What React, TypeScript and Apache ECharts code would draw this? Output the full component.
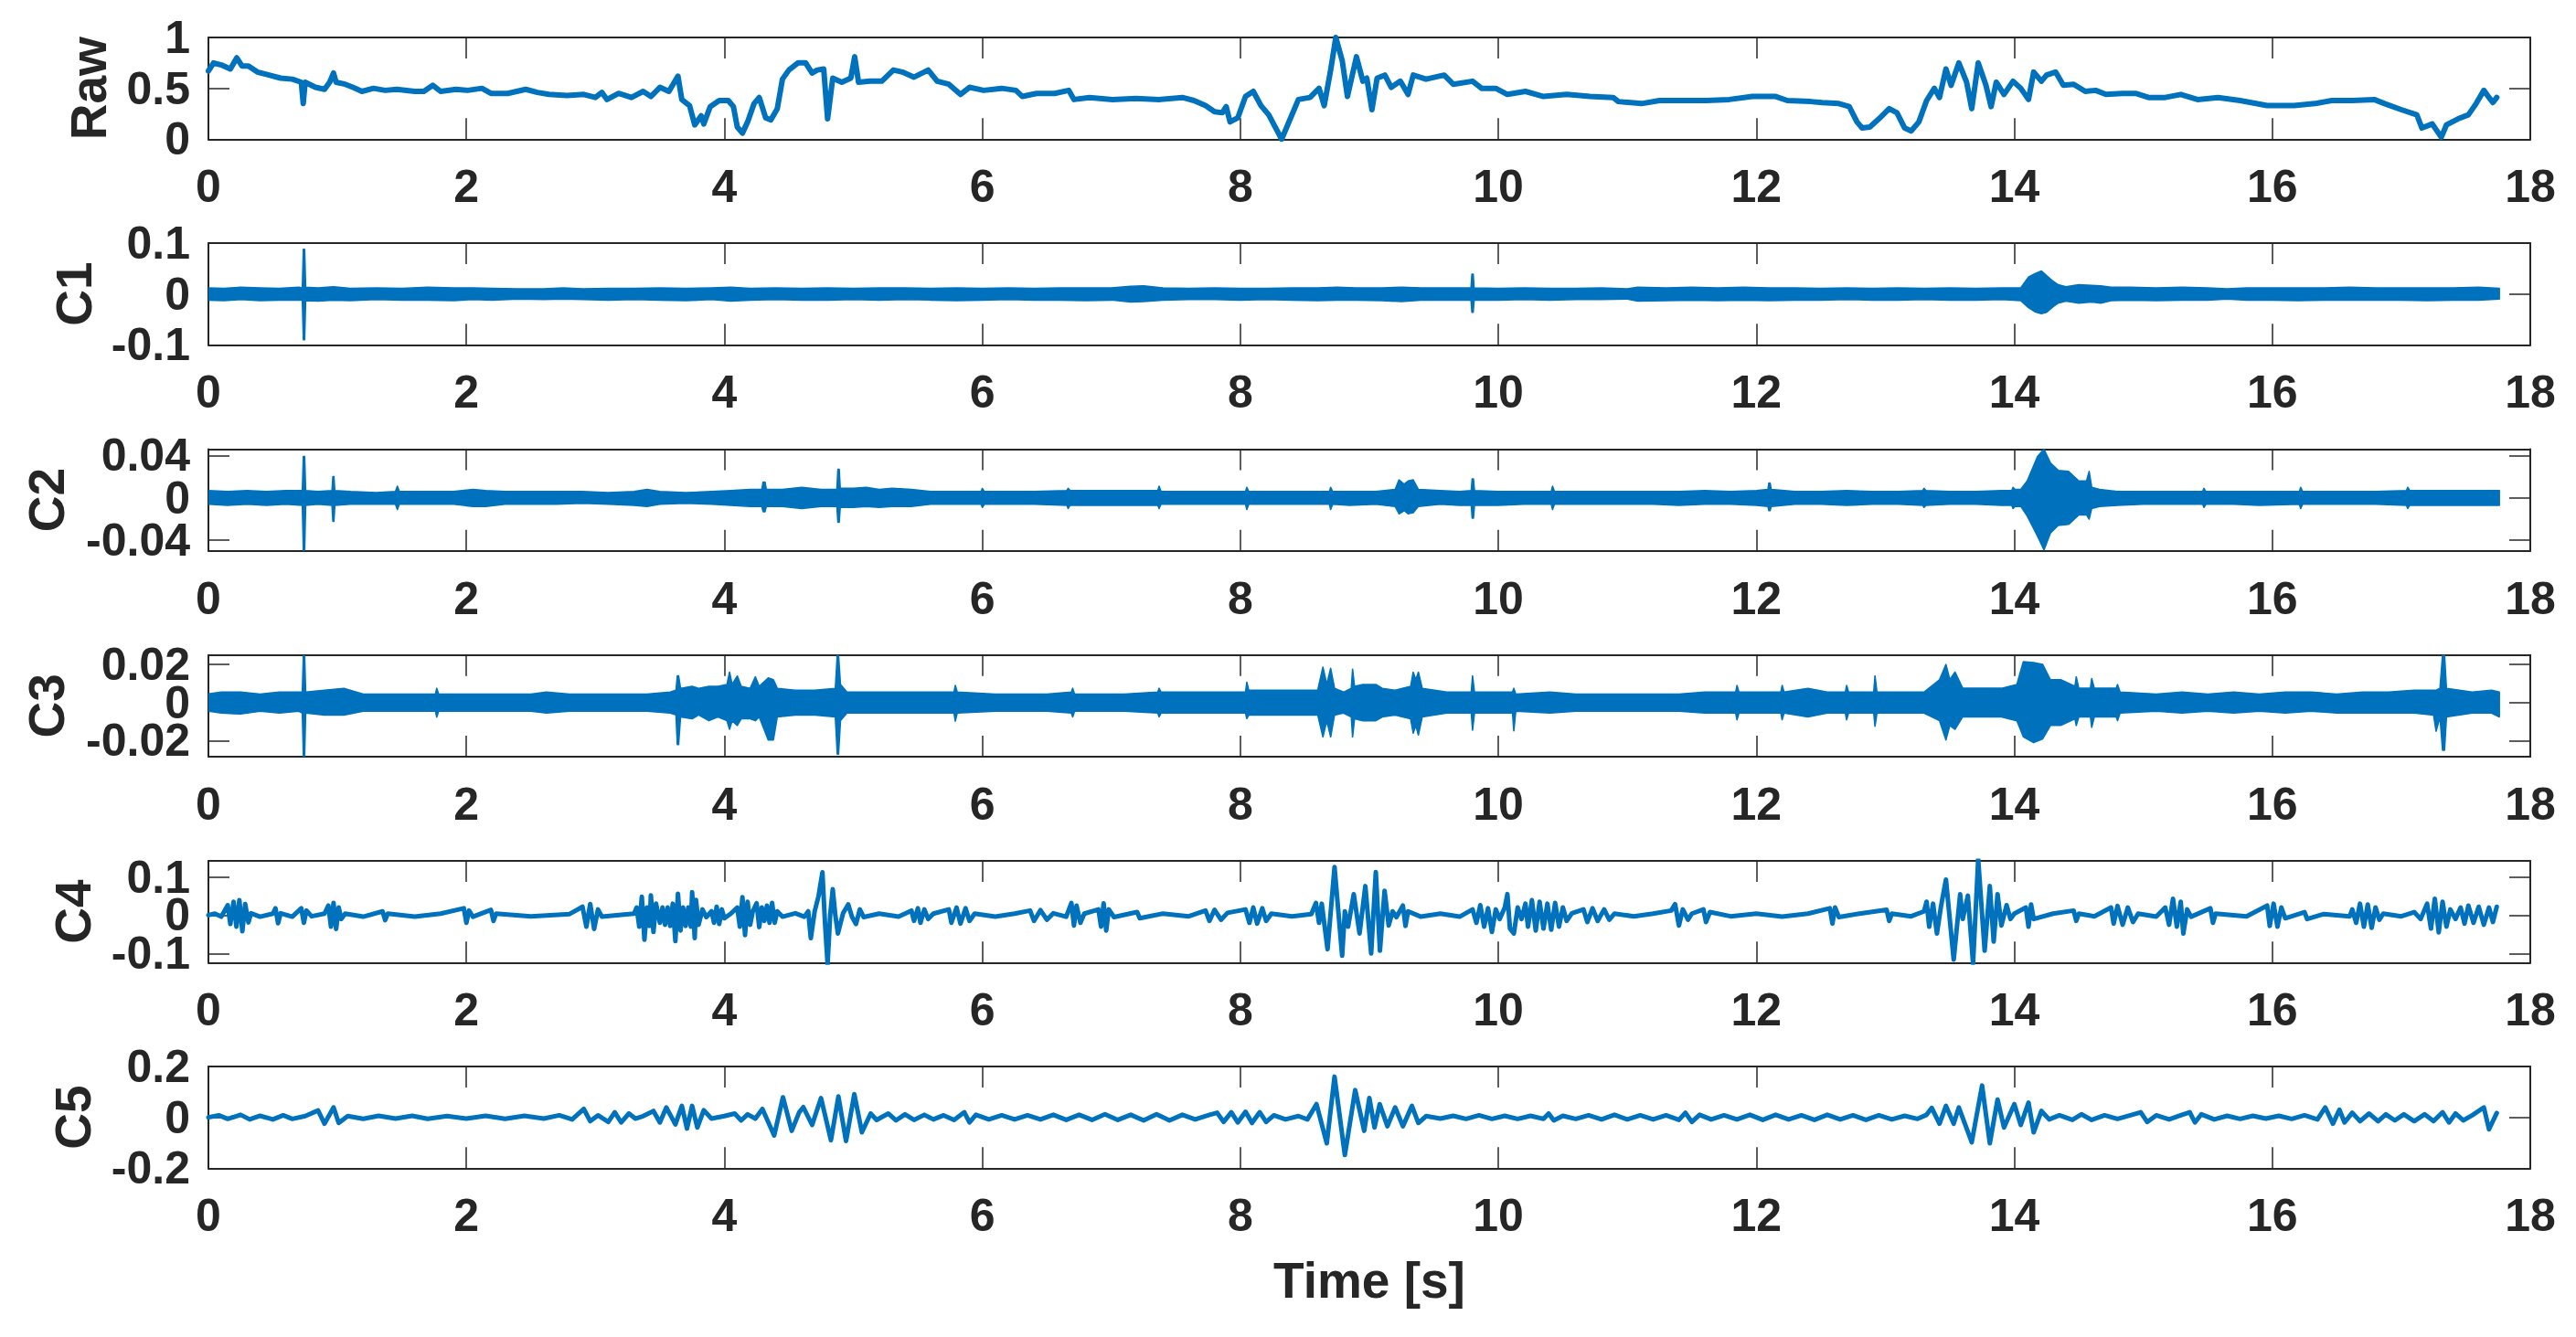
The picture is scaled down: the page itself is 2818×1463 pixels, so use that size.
import React, { useEffect, useRef } from "react";
import * as echarts from "echarts";

// ---------------- data ----------------
const timeTicks = [0, 2, 4, 6, 8, 10, 12, 14, 16, 18];
const panelNames = ["Raw", "C1", "C2", "C3", "C4", "C5"];
const yTicksRaw = [0, 0.5, 1];
const yTicksC1 = [-0.1, 0, 0.1];
const yTicksC2 = [-0.04, 0, 0.04];
const yTicksC3 = [-0.02, 0, 0.02];
const yTicksC4 = [-0.1, 0, 0.1];
const yTicksC5 = [-0.2, 0, 0.2];
const yLimitsRaw = [0, 1];
const yLimitsC1 = [-0.1, 0.1];
const yLimitsC2 = [-0.05, 0.046];
const yLimitsC3 = [-0.0284, 0.025];
const yLimitsC4 = [-0.124, 0.142];
const yLimitsC5 = [-0.2, 0.2];

// Raw signal [t, value]
const rawSignal = [
  [0.0, 0.67], [0.04, 0.75], [0.1, 0.73], [0.17, 0.69], [0.22, 0.8], [0.26, 0.72], [0.31, 0.72], [0.38, 0.66],
  [0.47, 0.63], [0.56, 0.6], [0.65, 0.59], [0.72, 0.56], [0.735, 0.35], [0.75, 0.56], [0.83, 0.51], [0.9, 0.49],
  [0.94, 0.56], [0.97, 0.65], [0.99, 0.56], [1.06, 0.54], [1.12, 0.51], [1.19, 0.47], [1.28, 0.5], [1.37, 0.48],
  [1.46, 0.49], [1.6, 0.47], [1.67, 0.47], [1.74, 0.53], [1.8, 0.47], [1.92, 0.49], [2.01, 0.48], [2.12, 0.5],
  [2.19, 0.45], [2.32, 0.45], [2.46, 0.49], [2.55, 0.46], [2.64, 0.44], [2.78, 0.43], [2.91, 0.44], [3.0, 0.41],
  [3.05, 0.46], [3.09, 0.39], [3.18, 0.45], [3.28, 0.41], [3.37, 0.47], [3.43, 0.42], [3.5, 0.51], [3.57, 0.47],
  [3.64, 0.62], [3.67, 0.39], [3.73, 0.33], [3.77, 0.14], [3.82, 0.23], [3.84, 0.15], [3.89, 0.32], [3.96, 0.38],
  [4.03, 0.38], [4.07, 0.32], [4.1, 0.12], [4.14, 0.06], [4.18, 0.17], [4.23, 0.35], [4.27, 0.41], [4.32, 0.21],
  [4.36, 0.19], [4.41, 0.3], [4.45, 0.59], [4.5, 0.68], [4.57, 0.75], [4.63, 0.75], [4.68, 0.65], [4.72, 0.68],
  [4.77, 0.69], [4.8, 0.2], [4.84, 0.6], [4.91, 0.56], [4.98, 0.6], [5.01, 0.81], [5.04, 0.56], [5.13, 0.57],
  [5.22, 0.57], [5.31, 0.68], [5.38, 0.66], [5.47, 0.61], [5.58, 0.68], [5.65, 0.57], [5.74, 0.54], [5.83, 0.44],
  [5.9, 0.51], [6.01, 0.48], [6.15, 0.5], [6.26, 0.48], [6.31, 0.42], [6.42, 0.45], [6.56, 0.45], [6.67, 0.48],
  [6.71, 0.39], [6.83, 0.41], [7.01, 0.39], [7.19, 0.4], [7.37, 0.39], [7.55, 0.41], [7.64, 0.38], [7.73, 0.33],
  [7.8, 0.27], [7.86, 0.26], [7.89, 0.32], [7.92, 0.17], [7.98, 0.21], [8.04, 0.42], [8.1, 0.47], [8.16, 0.33],
  [8.22, 0.24], [8.32, 0.0], [8.38, 0.18], [8.45, 0.39], [8.54, 0.41], [8.61, 0.5], [8.65, 0.33], [8.7, 0.68],
  [8.74, 1.0], [8.79, 0.77], [8.83, 0.42], [8.9, 0.81], [8.95, 0.57], [8.98, 0.6], [9.02, 0.29], [9.06, 0.6],
  [9.12, 0.63], [9.17, 0.51], [9.24, 0.57], [9.3, 0.44], [9.34, 0.63], [9.44, 0.59], [9.58, 0.63], [9.65, 0.54],
  [9.8, 0.57], [9.87, 0.5], [9.98, 0.5], [10.07, 0.44], [10.21, 0.47], [10.35, 0.42], [10.53, 0.44], [10.71, 0.42],
  [10.89, 0.41], [10.93, 0.37], [11.11, 0.35], [11.25, 0.38], [11.43, 0.38], [11.61, 0.38], [11.79, 0.39],
  [11.97, 0.42], [12.15, 0.42], [12.24, 0.38], [12.42, 0.37], [12.51, 0.36], [12.64, 0.35], [12.72, 0.32],
  [12.78, 0.17], [12.82, 0.11], [12.88, 0.12], [12.95, 0.2], [13.03, 0.3], [13.09, 0.26], [13.15, 0.11],
  [13.2, 0.08], [13.26, 0.17], [13.32, 0.38], [13.38, 0.5], [13.42, 0.41], [13.47, 0.69], [13.51, 0.53],
  [13.57, 0.75], [13.63, 0.56], [13.67, 0.3], [13.72, 0.75], [13.78, 0.53], [13.82, 0.32], [13.86, 0.56],
  [13.92, 0.44], [13.99, 0.57], [14.05, 0.5], [14.11, 0.39], [14.15, 0.66], [14.21, 0.57], [14.25, 0.63],
  [14.32, 0.66], [14.38, 0.53], [14.46, 0.54], [14.55, 0.47], [14.63, 0.48], [14.71, 0.44], [14.84, 0.45],
  [14.94, 0.45], [15.04, 0.41], [15.17, 0.41], [15.29, 0.44], [15.42, 0.39], [15.58, 0.41], [15.75, 0.38],
  [15.96, 0.33], [16.17, 0.33], [16.33, 0.35], [16.46, 0.38], [16.62, 0.38], [16.79, 0.39], [16.87, 0.35],
  [17.0, 0.29], [17.12, 0.24], [17.16, 0.11], [17.24, 0.15], [17.31, 0.02], [17.35, 0.14], [17.44, 0.2],
  [17.52, 0.24], [17.58, 0.35], [17.64, 0.48], [17.68, 0.41], [17.71, 0.36], [17.74, 0.41],
];

// C1 envelope [t, low, high]
const c1Envelope = [
  [0.0, -0.012, 0.012], [0.12, -0.013, 0.011], [0.25, -0.011, 0.013], [0.4, -0.013, 0.012], [0.55, -0.012, 0.011],
  [0.7, -0.012, 0.013], [0.728, -0.012, 0.012], [0.736, -0.09, 0.088], [0.746, -0.09, 0.088], [0.754, -0.013, 0.013],
  [0.85, -0.014, 0.012], [0.97, -0.012, 0.014], [1.1, -0.013, 0.011], [1.3, -0.011, 0.012], [1.5, -0.012, 0.011],
  [1.7, -0.012, 0.013], [1.9, -0.013, 0.012], [2.05, -0.011, 0.012], [2.2, -0.012, 0.011], [2.4, -0.01, 0.01],
  [2.6, -0.011, 0.01], [2.75, -0.01, 0.012], [2.9, -0.011, 0.01], [3.1, -0.012, 0.011], [3.3, -0.011, 0.011],
  [3.5, -0.012, 0.012], [3.7, -0.013, 0.011], [3.9, -0.011, 0.012], [4.05, -0.014, 0.013], [4.2, -0.012, 0.011],
  [4.4, -0.011, 0.012], [4.6, -0.012, 0.011], [4.8, -0.012, 0.012], [5.0, -0.011, 0.011], [5.2, -0.012, 0.012],
  [5.4, -0.011, 0.012], [5.6, -0.012, 0.011], [5.8, -0.013, 0.012], [6.0, -0.012, 0.011], [6.2, -0.011, 0.012],
  [6.4, -0.012, 0.011], [6.6, -0.012, 0.012], [6.8, -0.013, 0.012], [7.0, -0.012, 0.012], [7.15, -0.016, 0.015],
  [7.25, -0.015, 0.016], [7.4, -0.012, 0.012], [7.6, -0.011, 0.011], [7.8, -0.011, 0.012], [8.0, -0.012, 0.011],
  [8.2, -0.011, 0.011], [8.4, -0.012, 0.012], [8.6, -0.013, 0.012], [8.75, -0.012, 0.013], [8.9, -0.012, 0.012],
  [9.1, -0.013, 0.012], [9.25, -0.015, 0.013], [9.4, -0.012, 0.012], [9.6, -0.012, 0.012], [9.788, -0.012, 0.012],
  [9.795, -0.036, 0.039], [9.805, -0.036, 0.039], [9.812, -0.012, 0.012], [10.0, -0.012, 0.011], [10.2, -0.011, 0.012],
  [10.4, -0.012, 0.011], [10.6, -0.011, 0.011], [10.8, -0.011, 0.012], [11.0, -0.01, 0.01], [11.08, -0.014, 0.013],
  [11.3, -0.013, 0.012], [11.5, -0.012, 0.013], [11.7, -0.013, 0.012], [11.9, -0.012, 0.013], [12.1, -0.013, 0.012],
  [12.3, -0.012, 0.012], [12.5, -0.012, 0.011], [12.7, -0.011, 0.012], [12.9, -0.012, 0.011], [13.1, -0.012, 0.012],
  [13.3, -0.011, 0.011], [13.5, -0.012, 0.012], [13.7, -0.012, 0.011], [13.9, -0.011, 0.012], [14.05, -0.013, 0.012],
  [14.11, -0.027, 0.033], [14.16, -0.035, 0.04], [14.21, -0.039, 0.045], [14.25, -0.036, 0.036], [14.3, -0.025, 0.025],
  [14.34, -0.018, 0.018], [14.4, -0.014, 0.014], [14.5, -0.018, 0.018], [14.6, -0.016, 0.017], [14.67, -0.018, 0.016],
  [14.75, -0.013, 0.013], [14.9, -0.012, 0.013], [15.1, -0.013, 0.012], [15.3, -0.012, 0.013], [15.5, -0.012, 0.012],
  [15.65, -0.01, 0.01], [15.8, -0.012, 0.012], [16.0, -0.012, 0.012], [16.2, -0.013, 0.012], [16.4, -0.012, 0.012],
  [16.6, -0.012, 0.013], [16.8, -0.012, 0.012], [17.0, -0.012, 0.012], [17.2, -0.013, 0.012], [17.4, -0.012, 0.012],
  [17.6, -0.012, 0.013], [17.76, -0.01, 0.011],
];

// C2 envelope [t, low, high]
const c2Envelope = [
  [0.0, -0.006, 0.007], [0.15, -0.007, 0.006], [0.3, -0.006, 0.007], [0.45, -0.007, 0.006], [0.6, -0.006, 0.007],
  [0.728, -0.007, 0.007], [0.736, -0.05, 0.039], [0.746, -0.05, 0.039], [0.754, -0.007, 0.007], [0.85, -0.006, 0.006],
  [0.958, -0.007, 0.007], [0.965, -0.022, 0.02], [0.973, -0.022, 0.02], [0.98, -0.007, 0.007], [1.1, -0.006, 0.006],
  [1.3, -0.006, 0.005], [1.45, -0.006, 0.006], [1.465, -0.011, 0.011], [1.48, -0.006, 0.006], [1.7, -0.006, 0.006],
  [1.9, -0.006, 0.006], [2.05, -0.008, 0.008], [2.15, -0.008, 0.007], [2.3, -0.006, 0.006], [2.5, -0.006, 0.006],
  [2.7, -0.006, 0.006], [2.9, -0.005, 0.006], [3.1, -0.006, 0.005], [3.3, -0.007, 0.006], [3.4, -0.008, 0.008],
  [3.5, -0.006, 0.006], [3.7, -0.005, 0.005], [3.9, -0.006, 0.006], [4.05, -0.007, 0.007], [4.2, -0.008, 0.008],
  [4.29, -0.008, 0.008], [4.3, -0.013, 0.015], [4.315, -0.013, 0.015], [4.325, -0.008, 0.008], [4.45, -0.008, 0.008],
  [4.6, -0.01, 0.01], [4.75, -0.008, 0.008], [4.872, -0.008, 0.008], [4.88, -0.023, 0.027], [4.89, -0.023, 0.027],
  [4.898, -0.009, 0.009], [5.0, -0.009, 0.009], [5.1, -0.008, 0.01], [5.2, -0.009, 0.008], [5.3, -0.008, 0.009],
  [5.45, -0.008, 0.008], [5.6, -0.006, 0.006], [5.8, -0.006, 0.006], [5.99, -0.006, 0.006], [6.0, -0.009, 0.009],
  [6.015, -0.006, 0.006], [6.2, -0.006, 0.006], [6.4, -0.006, 0.006], [6.655, -0.007, 0.007], [6.665, -0.01, 0.009],
  [6.68, -0.007, 0.007], [6.9, -0.007, 0.007], [7.1, -0.007, 0.007], [7.3, -0.007, 0.007], [7.36, -0.007, 0.007],
  [7.37, -0.01, 0.011], [7.385, -0.006, 0.006], [7.6, -0.006, 0.006], [7.8, -0.006, 0.006], [8.04, -0.006, 0.006],
  [8.05, -0.011, 0.01], [8.065, -0.006, 0.006], [8.2, -0.006, 0.006], [8.4, -0.006, 0.006], [8.69, -0.006, 0.006],
  [8.7, -0.011, 0.01], [8.715, -0.006, 0.006], [8.85, -0.007, 0.006], [9.05, -0.006, 0.006], [9.2, -0.008, 0.008],
  [9.23, -0.015, 0.017], [9.27, -0.012, 0.013], [9.3, -0.015, 0.016], [9.34, -0.014, 0.017], [9.38, -0.008, 0.008],
  [9.55, -0.006, 0.007], [9.7, -0.007, 0.006], [9.79, -0.007, 0.007], [9.797, -0.019, 0.018], [9.807, -0.019, 0.018],
  [9.815, -0.007, 0.007], [10.0, -0.007, 0.006], [10.2, -0.006, 0.006], [10.41, -0.006, 0.006], [10.42, -0.011, 0.011],
  [10.435, -0.006, 0.006], [10.6, -0.006, 0.006], [10.8, -0.006, 0.006], [11.0, -0.006, 0.006], [11.2, -0.006, 0.006],
  [11.4, -0.007, 0.006], [11.6, -0.006, 0.007], [11.8, -0.006, 0.006], [12.0, -0.007, 0.007], [12.09, -0.008, 0.008],
  [12.097, -0.012, 0.014], [12.107, -0.012, 0.014], [12.115, -0.008, 0.008], [12.3, -0.006, 0.006], [12.5, -0.006, 0.006],
  [12.7, -0.007, 0.007], [12.9, -0.006, 0.006], [13.1, -0.006, 0.006], [13.29, -0.007, 0.007], [13.3, -0.009, 0.009],
  [13.315, -0.007, 0.007], [13.5, -0.006, 0.006], [13.7, -0.006, 0.006], [13.9, -0.007, 0.007], [13.98, -0.007, 0.007],
  [13.99, -0.01, 0.01], [14.005, -0.008, 0.008], [14.05, -0.008, 0.008], [14.1, -0.017, 0.016], [14.18, -0.036, 0.039],
  [14.23, -0.049, 0.046], [14.28, -0.033, 0.033], [14.34, -0.026, 0.026], [14.42, -0.025, 0.025], [14.5, -0.016, 0.016],
  [14.56, -0.016, 0.016], [14.58, -0.02, 0.025], [14.6, -0.01, 0.01], [14.66, -0.008, 0.008], [14.8, -0.007, 0.006],
  [15.0, -0.006, 0.006], [15.2, -0.006, 0.006], [15.46, -0.006, 0.006], [15.47, -0.009, 0.009], [15.485, -0.006, 0.006],
  [15.7, -0.006, 0.006], [15.9, -0.007, 0.006], [16.21, -0.006, 0.006], [16.22, -0.01, 0.01], [16.235, -0.006, 0.006],
  [16.4, -0.006, 0.006], [16.6, -0.006, 0.006], [16.8, -0.006, 0.006], [17.04, -0.007, 0.007], [17.05, -0.01, 0.01],
  [17.065, -0.007, 0.007], [17.3, -0.007, 0.007], [17.5, -0.007, 0.007], [17.76, -0.007, 0.007],
];

// C3 envelope [t, low, high]
const c3Envelope = [
  [0.0, -0.0045, 0.0045], [0.1, -0.0055, 0.0055], [0.25, -0.006, 0.0055], [0.4, -0.0045, 0.0045], [0.55, -0.0055, 0.0055],
  [0.7, -0.0045, 0.0055], [0.728, -0.0055, 0.0055], [0.736, -0.028, 0.0245], [0.746, -0.028, 0.0245], [0.754, -0.0055, 0.0055],
  [0.9, -0.0065, 0.0065], [1.05, -0.0065, 0.0075], [1.2, -0.0045, 0.0045], [1.4, -0.0045, 0.0045], [1.6, -0.0045, 0.0045],
  [1.76, -0.0045, 0.0045], [1.77, -0.0076, 0.0075], [1.785, -0.0045, 0.0045], [1.9, -0.0045, 0.0045], [2.1, -0.0045, 0.0045],
  [2.3, -0.0045, 0.0045], [2.5, -0.0045, 0.0045], [2.62, -0.0055, 0.0055], [2.8, -0.0045, 0.0045], [3.0, -0.0045, 0.0045],
  [3.2, -0.0045, 0.0045], [3.4, -0.0045, 0.0045], [3.58, -0.0055, 0.0055], [3.625, -0.0065, 0.0065], [3.635, -0.022, 0.014],
  [3.645, -0.022, 0.014], [3.66, -0.0075, 0.0075], [3.75, -0.0085, 0.0085], [3.8, -0.0065, 0.0075], [3.88, -0.0095, 0.0085],
  [3.95, -0.0075, 0.0085], [4.02, -0.0095, 0.0095], [4.04, -0.014, 0.016], [4.06, -0.0095, 0.0095], [4.1, -0.012, 0.014],
  [4.13, -0.0085, 0.0085], [4.2, -0.0085, 0.0075], [4.24, -0.0095, 0.0135], [4.27, -0.0075, 0.0085], [4.34, -0.0196, 0.013],
  [4.38, -0.0196, 0.012], [4.41, -0.0075, 0.0075], [4.55, -0.0065, 0.0065], [4.7, -0.0065, 0.0065], [4.86, -0.0075, 0.0075],
  [4.875, -0.027, 0.025], [4.885, -0.027, 0.025], [4.9, -0.0095, 0.0095], [4.95, -0.0055, 0.0055], [5.2, -0.0055, 0.0055],
  [5.4, -0.0055, 0.0055], [5.6, -0.0055, 0.0055], [5.78, -0.0055, 0.0055], [5.79, -0.0097, 0.009], [5.805, -0.0055, 0.0055],
  [6.1, -0.0045, 0.0045], [6.3, -0.0045, 0.0045], [6.5, -0.0045, 0.0045], [6.69, -0.0055, 0.0055], [6.7, -0.0075, 0.0075],
  [6.715, -0.0045, 0.0045], [6.9, -0.0045, 0.0045], [7.1, -0.0045, 0.0045], [7.36, -0.0055, 0.0055], [7.37, -0.0075, 0.0075],
  [7.385, -0.0055, 0.0055], [7.55, -0.0055, 0.0055], [7.8, -0.0055, 0.0055], [8.04, -0.0055, 0.0055], [8.05, -0.0084, 0.0107],
  [8.065, -0.0065, 0.0065], [8.2, -0.0065, 0.0065], [8.4, -0.0065, 0.0065], [8.6, -0.0065, 0.0065], [8.64, -0.018, 0.0186],
  [8.67, -0.0095, 0.0095], [8.7, -0.018, 0.018], [8.73, -0.0065, 0.0075], [8.8, -0.0055, 0.0055], [8.86, -0.0075, 0.0075],
  [8.87, -0.018, 0.0175], [8.885, -0.0085, 0.0085], [8.95, -0.0095, 0.0095], [9.05, -0.0095, 0.0095], [9.1, -0.0075, 0.0075],
  [9.2, -0.0065, 0.0065], [9.32, -0.0085, 0.0085], [9.34, -0.016, 0.016], [9.36, -0.012, 0.012], [9.38, -0.017, 0.016],
  [9.41, -0.0075, 0.0075], [9.6, -0.0055, 0.0055], [9.79, -0.0055, 0.0055], [9.8, -0.0145, 0.014], [9.815, -0.0055, 0.0055],
  [10.0, -0.0055, 0.0055], [10.11, -0.0055, 0.0055], [10.12, -0.0148, 0.0075], [10.135, -0.0045, 0.0045], [10.4, -0.0055, 0.0055],
  [10.6, -0.0045, 0.0045], [10.8, -0.0045, 0.0045], [11.0, -0.0045, 0.0045], [11.2, -0.0045, 0.0045], [11.4, -0.0045, 0.0045],
  [11.6, -0.0055, 0.0055], [11.84, -0.0055, 0.0055], [11.85, -0.009, 0.009], [11.865, -0.0055, 0.0055], [12.19, -0.0055, 0.0055],
  [12.2, -0.009, 0.009], [12.215, -0.0055, 0.0055], [12.4, -0.0075, 0.0075], [12.55, -0.0055, 0.0055], [12.69, -0.0055, 0.0055],
  [12.7, -0.009, 0.009], [12.715, -0.0055, 0.0055], [12.91, -0.0055, 0.0055], [12.92, -0.0124, 0.014], [12.935, -0.0055, 0.0055],
  [13.15, -0.0055, 0.0055], [13.3, -0.0055, 0.0055], [13.42, -0.0095, 0.012], [13.47, -0.0196, 0.02], [13.5, -0.012, 0.012],
  [13.54, -0.014, 0.016], [13.6, -0.0075, 0.0075], [13.75, -0.0075, 0.0075], [13.9, -0.0075, 0.0075], [14.02, -0.0095, 0.0095],
  [14.07, -0.018, 0.0215], [14.15, -0.021, 0.021], [14.22, -0.019, 0.02], [14.28, -0.012, 0.012], [14.36, -0.012, 0.012],
  [14.47, -0.0085, 0.0085], [14.48, -0.012, 0.0135], [14.5, -0.0075, 0.0075], [14.59, -0.0075, 0.0075], [14.6, -0.013, 0.0126],
  [14.62, -0.0075, 0.0075], [14.79, -0.0075, 0.0075], [14.8, -0.0095, 0.0095], [14.82, -0.0055, 0.0055], [15.1, -0.0045, 0.0045],
  [15.3, -0.0055, 0.0055], [15.5, -0.0045, 0.0045], [15.7, -0.0055, 0.0055], [15.9, -0.0045, 0.0045], [16.1, -0.0055, 0.0055],
  [16.3, -0.0045, 0.0055], [16.5, -0.0055, 0.0045], [16.7, -0.0055, 0.0055], [16.9, -0.0055, 0.0055], [17.1, -0.0055, 0.0065],
  [17.25, -0.0065, 0.0065], [17.27, -0.015, 0.0065], [17.3, -0.0075, 0.0075], [17.32, -0.025, 0.0253], [17.335, -0.025, 0.0253],
  [17.35, -0.0075, 0.0075], [17.55, -0.0055, 0.0055], [17.7, -0.0055, 0.0065], [17.76, -0.0075, 0.0055],
];

// C4 signal [t, value]
const c4Signal = [
  [0, 0], [0.05, 0.004], [0.1, -0.004], [0.15, 0.026], [0.17, -0.023], [0.195, 0.035], [0.217, -0.03], [0.24, 0.039],
  [0.263, -0.042], [0.285, 0.029], [0.31, -0.019], [0.33, 0.005], [0.4, -0.004], [0.5, 0.004], [0.52, 0.018],
  [0.54, -0.021], [0.56, 0.005], [0.65, -0.004], [0.72, 0.018], [0.74, -0.02], [0.76, 0.012], [0.8, -0.003],
  [0.9, 0.004], [0.93, 0.025], [0.95, -0.03], [0.97, 0.032], [0.99, -0.036], [1.01, 0.02], [1.03, -0.01],
  [1.06, 0.004], [1.2, -0.004], [1.35, 0.01], [1.37, -0.013], [1.39, 0.004], [1.6, -0.004], [1.8, 0.004],
  [1.98, 0.018], [2.0, -0.02], [2.02, 0.012], [2.05, -0.004], [2.19, 0.014], [2.21, -0.015], [2.23, 0.004],
  [2.5, -0.003], [2.8, 0.003], [2.9, 0.022], [2.93, -0.03], [2.96, 0.029], [2.99, -0.036], [3.02, 0.015],
  [3.05, -0.004], [3.3, 0.004], [3.32, 0.02], [3.34, -0.03], [3.36, 0.048], [3.38, -0.064], [3.4, 0.02],
  [3.42, -0.028], [3.43, 0.052], [3.45, -0.044], [3.47, 0.03], [3.5, -0.02], [3.52, 0.02], [3.54, -0.025],
  [3.56, 0.02], [3.58, -0.028], [3.6, 0.03], [3.62, -0.068], [3.64, 0.056], [3.66, -0.04], [3.68, 0.02],
  [3.7, -0.028], [3.72, 0.02], [3.74, -0.03], [3.75, 0.06], [3.77, -0.06], [3.78, 0.04], [3.8, -0.025],
  [3.83, 0.015], [3.86, -0.005], [3.9, 0.01], [3.92, -0.02], [3.94, 0.022], [3.96, -0.023], [3.98, 0.015],
  [4.0, -0.008], [4.05, 0.004], [4.1, 0.02], [4.12, -0.03], [4.14, 0.047], [4.16, -0.052], [4.18, 0.035],
  [4.2, -0.025], [4.22, 0.01], [4.25, 0.031], [4.27, -0.031], [4.29, 0.02], [4.31, -0.015], [4.33, 0.025],
  [4.35, -0.02], [4.37, 0.032], [4.39, -0.02], [4.41, 0.01], [4.45, -0.004], [4.55, 0.005], [4.62, -0.004],
  [4.65, 0.01], [4.67, -0.06], [4.7, 0.01], [4.73, 0.05], [4.76, 0.112], [4.78, -0.02], [4.8, -0.128],
  [4.82, 0.0], [4.84, 0.068], [4.86, 0.0], [4.88, -0.048], [4.92, 0.005], [4.96, 0.028], [4.99, -0.005],
  [5.02, -0.023], [5.05, 0.015], [5.08, -0.005], [5.2, 0.004], [5.35, -0.004], [5.45, 0.012], [5.47, -0.015],
  [5.5, 0.018], [5.52, -0.02], [5.55, 0.015], [5.58, -0.01], [5.62, 0.004], [5.74, 0.015], [5.76, -0.02],
  [5.8, 0.02], [5.83, -0.022], [5.87, 0.018], [5.9, -0.015], [5.94, 0.004], [6.1, -0.004], [6.25, 0.004],
  [6.37, 0.012], [6.4, -0.015], [6.45, 0.013], [6.5, -0.012], [6.55, 0.005], [6.65, -0.004], [6.69, 0.032],
  [6.71, -0.027], [6.73, 0.025], [6.76, -0.02], [6.79, 0.004], [6.9, 0.015], [6.92, -0.03], [6.94, 0.031],
  [6.96, -0.04], [6.98, 0.015], [7.02, -0.005], [7.2, 0.008], [7.22, -0.008], [7.4, 0.004], [7.6, -0.003],
  [7.73, 0.012], [7.76, -0.015], [7.8, 0.014], [7.85, -0.012], [7.9, 0.006], [8.04, 0.015], [8.07, -0.02],
  [8.1, 0.02], [8.13, -0.022], [8.17, 0.018], [8.2, -0.015], [8.24, 0.004], [8.4, -0.003], [8.55, 0.003],
  [8.586, 0.032], [8.61, -0.02], [8.631, 0.03], [8.676, -0.089], [8.73, 0.126], [8.789, -0.106], [8.81, 0.01],
  [8.835, -0.03], [8.879, 0.055], [8.924, -0.048], [8.969, 0.076], [9.014, -0.1], [9.05, 0.113], [9.082, -0.093],
  [9.118, 0.064], [9.15, -0.027], [9.18, 0.01], [9.21, -0.005], [9.26, 0.025], [9.28, -0.028], [9.3, 0.01],
  [9.4, -0.004], [9.55, 0.004], [9.7, -0.004], [9.8, 0.015], [9.83, -0.02], [9.86, 0.026], [9.89, -0.03],
  [9.92, 0.018], [9.95, -0.044], [9.98, 0.015], [10.01, -0.01], [10.05, 0.02], [10.07, 0.055], [10.09, -0.035],
  [10.12, -0.048], [10.15, 0.02], [10.18, -0.01], [10.21, 0.03], [10.23, -0.03], [10.26, 0.039], [10.29, -0.04],
  [10.32, 0.035], [10.35, -0.035], [10.38, 0.03], [10.41, -0.038], [10.44, 0.032], [10.47, -0.03], [10.5, 0.02],
  [10.53, -0.015], [10.57, 0.005], [10.66, 0.015], [10.69, -0.018], [10.73, 0.018], [10.77, -0.015], [10.82, 0.015],
  [10.86, -0.012], [10.9, 0.004], [11.05, -0.003], [11.2, 0.004], [11.34, 0.012], [11.37, 0.029], [11.4, -0.027],
  [11.43, 0.015], [11.47, -0.012], [11.5, 0.004], [11.59, 0.015], [11.61, -0.018], [11.64, 0.008], [11.8, -0.003],
  [12.0, 0.004], [12.2, -0.004], [12.4, 0.004], [12.57, 0.018], [12.59, -0.022], [12.61, 0.02], [12.64, -0.005],
  [12.8, 0.004], [13.01, 0.014], [13.03, -0.015], [13.05, 0.004], [13.2, -0.003], [13.3, 0.01], [13.32, 0.035],
  [13.34, -0.03], [13.37, 0.03], [13.4, -0.048], [13.43, 0.02], [13.47, 0.093], [13.53, -0.116], [13.58, 0.055],
  [13.6, -0.01], [13.64, 0.051], [13.68, -0.126], [13.72, 0.146], [13.77, -0.093], [13.81, 0.076], [13.84, -0.069],
  [13.87, 0.055], [13.9, -0.027], [13.94, 0.026], [13.97, -0.01], [14.0, 0.004], [14.09, 0.02], [14.11, -0.03],
  [14.13, 0.028], [14.15, -0.01], [14.3, 0.004], [14.46, 0.012], [14.48, -0.015], [14.5, 0.004], [14.62, -0.003],
  [14.75, 0.02], [14.77, -0.022], [14.8, 0.024], [14.84, -0.025], [14.88, 0.02], [14.92, -0.018], [14.96, 0.004],
  [15.1, -0.004], [15.17, 0.02], [15.2, -0.025], [15.23, 0.043], [15.26, -0.03], [15.29, 0.035], [15.31, -0.048],
  [15.34, 0.015], [15.37, -0.004], [15.52, 0.018], [15.54, -0.02], [15.56, 0.004], [15.8, -0.003], [15.96, 0.025],
  [15.98, -0.028], [16.01, 0.03], [16.04, -0.03], [16.07, 0.02], [16.1, -0.008], [16.25, 0.008], [16.27, -0.01],
  [16.4, 0.003], [16.6, -0.003], [16.62, 0.015], [16.65, -0.02], [16.68, 0.03], [16.71, -0.03], [16.74, 0.028],
  [16.77, -0.033], [16.8, 0.02], [16.83, -0.012], [16.86, 0.004], [17.0, -0.003], [17.1, 0.008], [17.15, -0.01],
  [17.2, 0.03], [17.23, -0.035], [17.26, 0.043], [17.29, -0.045], [17.32, 0.035], [17.35, -0.03], [17.38, 0.015],
  [17.42, -0.01], [17.46, 0.02], [17.49, -0.022], [17.52, 0.025], [17.56, -0.02], [17.6, 0.022], [17.64, -0.025],
  [17.68, 0.02], [17.71, -0.018], [17.74, 0.022],
];

// C5 signal [t, value]
const c5Signal = [
  [0, 0], [0.08, 0.008], [0.15, -0.006], [0.25, 0.01], [0.32, -0.008], [0.4, 0.006], [0.5, -0.008], [0.58, 0.008],
  [0.65, -0.006], [0.75, 0.005], [0.85, 0.027], [0.9, -0.025], [0.97, 0.039], [1.01, -0.022], [1.08, 0.005],
  [1.2, -0.006], [1.32, 0.006], [1.45, -0.005], [1.58, 0.006], [1.7, -0.006], [1.85, 0.005], [2.0, -0.005],
  [2.15, 0.006], [2.3, -0.006], [2.45, 0.006], [2.6, -0.005], [2.72, 0.008], [2.82, -0.008], [2.91, 0.033],
  [2.96, -0.015], [3.02, 0.008], [3.1, -0.018], [3.15, 0.02], [3.2, -0.02], [3.26, 0.015], [3.31, -0.005],
  [3.37, 0.005], [3.45, 0.025], [3.5, -0.02], [3.55, 0.039], [3.62, -0.028], [3.67, 0.045], [3.71, -0.044],
  [3.75, 0.045], [3.79, -0.04], [3.84, 0.028], [3.9, -0.005], [4.0, 0.005], [4.08, 0.015], [4.13, -0.012],
  [4.18, 0.012], [4.24, -0.005], [4.295, 0.033], [4.386, -0.071], [4.454, 0.079], [4.522, -0.053], [4.58, 0.02],
  [4.612, 0.04], [4.68, -0.03], [4.749, 0.076], [4.826, -0.09], [4.884, 0.082], [4.943, -0.093], [5.007, 0.091],
  [5.066, -0.059], [5.134, 0.015], [5.18, -0.01], [5.27, 0.015], [5.33, -0.012], [5.4, 0.012], [5.47, -0.01],
  [5.55, 0.01], [5.62, -0.008], [5.7, 0.008], [5.78, -0.01], [5.86, 0.02], [5.9, -0.02], [5.95, 0.01],
  [6.05, -0.008], [6.15, 0.008], [6.25, -0.008], [6.35, 0.008], [6.45, -0.008], [6.55, 0.01], [6.65, -0.01],
  [6.75, 0.01], [6.85, -0.01], [6.95, 0.012], [7.05, -0.01], [7.15, 0.01], [7.25, -0.012], [7.35, 0.012],
  [7.45, -0.012], [7.55, 0.01], [7.65, -0.008], [7.75, 0.008], [7.82, 0.018], [7.87, -0.018], [7.93, 0.02],
  [7.98, -0.02], [8.04, 0.022], [8.09, -0.022], [8.15, 0.02], [8.2, -0.018], [8.26, 0.008], [8.35, -0.008],
  [8.45, 0.005], [8.52, -0.008], [8.59, 0.052], [8.67, -0.102], [8.73, 0.16], [8.81, -0.148], [8.89, 0.107],
  [8.96, -0.053], [9.0, 0.076], [9.04, -0.04], [9.08, 0.052], [9.14, -0.035], [9.2, 0.039], [9.26, -0.035],
  [9.33, 0.045], [9.38, -0.022], [9.44, 0.005], [9.55, -0.005], [9.65, 0.006], [9.75, -0.006], [9.85, 0.008],
  [9.95, -0.006], [10.05, 0.006], [10.15, -0.006], [10.25, 0.006], [10.35, -0.006], [10.39, 0.015], [10.43, -0.012],
  [10.5, 0.006], [10.6, -0.006], [10.7, 0.008], [10.8, -0.008], [10.9, 0.01], [11.0, -0.008], [11.1, 0.008],
  [11.2, -0.008], [11.3, 0.008], [11.4, -0.01], [11.45, 0.018], [11.5, -0.018], [11.56, 0.01], [11.65, -0.008],
  [11.75, 0.008], [11.85, -0.008], [11.95, 0.01], [12.05, -0.01], [12.15, 0.01], [12.25, -0.008], [12.35, 0.008],
  [12.45, -0.01], [12.55, 0.01], [12.65, -0.008], [12.75, 0.008], [12.85, -0.01], [12.95, 0.008], [13.05, -0.008],
  [13.15, 0.006], [13.25, -0.006], [13.32, 0.01], [13.36, 0.037], [13.42, -0.025], [13.47, 0.045], [13.53, -0.025],
  [13.57, 0.039], [13.67, -0.098], [13.75, 0.125], [13.81, -0.102], [13.87, 0.07], [13.92, -0.04], [14.0, 0.052],
  [14.05, -0.03], [14.11, 0.058], [14.15, -0.059], [14.21, 0.025], [14.27, -0.008], [14.35, 0.008], [14.45, -0.01],
  [14.52, 0.012], [14.6, -0.01], [14.7, 0.008], [14.8, -0.006], [14.9, 0.008], [14.98, 0.02], [15.03, -0.018],
  [15.1, 0.008], [15.2, -0.008], [15.3, 0.01], [15.36, 0.02], [15.4, -0.02], [15.45, 0.012], [15.55, -0.008],
  [15.65, 0.006], [15.75, -0.006], [15.85, 0.006], [15.95, -0.005], [16.05, 0.006], [16.15, -0.006], [16.25, 0.008],
  [16.35, -0.008], [16.41, 0.039], [16.47, -0.025], [16.52, 0.03], [16.56, -0.02], [16.62, 0.018], [16.68, -0.015],
  [16.75, 0.015], [16.82, -0.015], [16.88, 0.012], [16.95, -0.012], [17.02, 0.012], [17.1, -0.015], [17.18, 0.012],
  [17.25, -0.015], [17.32, 0.02], [17.37, -0.02], [17.42, 0.015], [17.48, -0.012], [17.55, 0.008], [17.64, 0.039],
  [17.68, -0.047], [17.74, 0.017],
];

// ---------------- presentation ----------------
const BLUE = "#0072BD";
const INK = "#262626";
const FONT = "'Liberation Sans', Arial, Helvetica, sans-serif";
const GRID_LEFT = 228;
const GRID_WIDTH = 2540;
const GRID_TOPS = [41, 266, 491.5, 716.7, 942, 1167];
const GRID_HEIGHT = 111.3;
const NAME_GAPS = [104, 120, 150, 150, 121, 121];

const fmt = (v: number) => String(Number(Number(v).toPrecision(6)));

export default function App() {
  const ref = useRef<HTMLDivElement>(null);

  useEffect(() => {
    if (!ref.current) return;
    const chart = echarts.init(ref.current, null, { renderer: "svg" });

    const yLimits = [yLimitsRaw, yLimitsC1, yLimitsC2, yLimitsC3, yLimitsC4, yLimitsC5];
    const yTicks = [yTicksRaw, yTicksC1, yTicksC2, yTicksC3, yTicksC4, yTicksC5];

    const axisLine = { show: true, onZero: false, lineStyle: { color: INK, width: 2 } };
    const tickStyle = { color: INK, width: 1.5 };
    const labelText = {
      fontSize: 50, fontWeight: "bold", fontFamily: FONT, color: INK, lineHeight: 34,
      hideOverlap: false, formatter: fmt,
    };

    const grids: any[] = [];
    const xAxes: any[] = [];
    const yAxes: any[] = [];
    for (let i = 0; i < 6; i++) {
      const ticks = yTicks[i];
      const outer = [ticks[0], ticks[ticks.length - 1]];
      const inner = ticks.slice(1, ticks.length - 1);
      grids.push({ left: GRID_LEFT, top: GRID_TOPS[i], width: GRID_WIDTH, height: GRID_HEIGHT, outerBoundsMode: "none" });
      xAxes.push({
        type: "value", gridIndex: i, position: "bottom", min: 0, max: 18,
        axisLine,
        axisTick: { show: true, inside: true, length: 23, customValues: timeTicks, lineStyle: tickStyle },
        axisLabel: { show: true, customValues: timeTicks, margin: 35, showMinLabel: true, showMaxLabel: true, ...labelText },
        splitLine: { show: false },
        name: i === 5 ? "Time [s]" : "",
        nameLocation: "middle", nameGap: 95,
        nameTextStyle: { fontSize: 55, fontWeight: "bold", fontFamily: FONT, color: INK },
      });
      xAxes.push({
        type: "value", gridIndex: i, position: "top", min: 0, max: 18,
        axisLine,
        axisTick: { show: true, inside: true, length: 23, customValues: timeTicks, lineStyle: tickStyle },
        axisLabel: { show: false },
        splitLine: { show: false },
      });
      // main left axis: frame line, ticks, outer tick labels and panel name
      yAxes.push({
        type: "value", gridIndex: i, position: "left", min: yLimits[i][0], max: yLimits[i][1],
        axisLine,
        axisTick: { show: true, inside: true, length: 23, customValues: ticks, lineStyle: tickStyle },
        axisLabel: { show: true, customValues: outer, margin: 20, showMinLabel: true, showMaxLabel: true, ...labelText },
        splitLine: { show: false },
        name: panelNames[i], nameLocation: "middle", nameRotate: 90, nameGap: NAME_GAPS[i],
        nameTextStyle: { fontSize: 55, fontWeight: "bold", fontFamily: FONT, color: INK },
      });
      // right axis: frame line and ticks
      yAxes.push({
        type: "value", gridIndex: i, position: "right", min: yLimits[i][0], max: yLimits[i][1],
        axisLine,
        axisTick: { show: true, inside: true, length: 23, customValues: ticks, lineStyle: tickStyle },
        axisLabel: { show: false },
        splitLine: { show: false },
      });
      // companion left axis: inner tick labels only
      yAxes.push({
        type: "value", gridIndex: i, position: "left", offset: 0, min: yLimits[i][0], max: yLimits[i][1],
        axisLine: { show: false, onZero: false },
        axisTick: { show: false },
        axisLabel: { show: true, customValues: inner, margin: 20, showMinLabel: true, showMaxLabel: true, ...labelText },
        splitLine: { show: false },
      });
    }

    const lineSeries = (data: number[][], idx: number, width: number) => ({
      type: "line", xAxisIndex: 2 * idx, yAxisIndex: 3 * idx, data,
      showSymbol: false, symbol: "none", clip: true, z: 3,
      lineStyle: { width, color: BLUE, join: "round", cap: "round" },
    });

    const bandSeries = (env: number[][], idx: number) => ({
      type: "custom", xAxisIndex: 2 * idx, yAxisIndex: 3 * idx, data: env,
      encode: { x: 0, y: [1, 2] }, clip: true, z: 3,
      renderItem: (params: any, api: any) => {
        if (params.dataIndex !== 0) return null;
        const upper = env.map((e) => api.coord([e[0], e[2]]));
        const lower = env.map((e) => api.coord([e[0], e[1]])).reverse();
        return {
          type: "polygon",
          shape: { points: upper.concat(lower) },
          style: { fill: BLUE, stroke: BLUE, lineWidth: 1.6, lineJoin: "round" },
        };
      },
    });

    chart.setOption({
      animation: false,
      backgroundColor: "#ffffff",
      grid: grids,
      xAxis: xAxes,
      yAxis: yAxes,
      series: [
        lineSeries(rawSignal, 0, 6),
        bandSeries(c1Envelope, 1),
        bandSeries(c2Envelope, 2),
        bandSeries(c3Envelope, 3),
        lineSeries(c4Signal, 4, 5),
        lineSeries(c5Signal, 5, 5),
      ],
    });

    return () => chart.dispose();
  }, []);

  return (
    <div
      ref={ref}
      style={{ position: "fixed", left: 0, top: 0, width: 2818, height: 1463, background: "#fff" }}
    />
  );
}
